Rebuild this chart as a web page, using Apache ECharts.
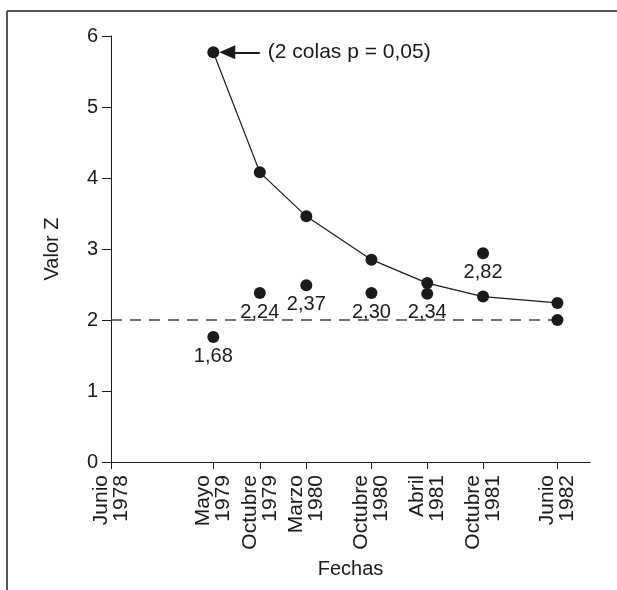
<!DOCTYPE html>
<html>
<head>
<meta charset="utf-8">
<script src="https://cdn.jsdelivr.net/npm/echarts@6.0.0/dist/echarts.min.js"></script>
<style>
  html, body { margin: 0; padding: 0; background: #fff; }
  #chart { width: 617px; height: 590px; }
</style>
</head>
<body>
<div id="chart"></div>
<script>
// meses contados desde junio de 1978
var fechaMeses = [11, 16, 21, 28, 34, 40, 48];
var tickMeses = [0, 11, 16, 21, 28, 34, 40, 48];
var tickEtiquetas = ["Junio\n1978", "Mayo\n1979", "Octubre\n1979", "Marzo\n1980", "Octubre\n1980", "Abril\n1981", "Octubre\n1981", "Junio\n1982"];
var valorCurva = [5.77, 4.08, 3.46, 2.85, 2.52, 2.33, 2.24];
var valorPuntos = [1.76, 2.38, 2.49, 2.38, 2.37, 2.94, 2.0];
var etiquetasPuntos = ["1,68", "2,24", "2,37", "2,30", "2,34", "2,82", ""];
var umbral = 2;
var flecha = [12.5, 16.0]; // punta y cola de la flecha, en meses

var font = "Liberation Sans, Arial, sans-serif";
var negro = "#1a1a1a";

var chart = echarts.init(document.getElementById("chart"));

var curva = fechaMeses.map(function (m, i) { return [m, valorCurva[i]]; });
var puntos = fechaMeses.map(function (m, i) { return [m, valorPuntos[i]]; });
var lineaUmbral = [[tickMeses[0], umbral], [tickMeses[tickMeses.length - 1], umbral]];

chart.setOption({
  animation: false,
  grid: { left: 111, top: 36, right: 27, bottom: 128 },
  graphic: [
    { type: "line", shape: { x1: 7, y1: 11, x2: 7, y2: 590 }, style: { stroke: "#555", lineWidth: 2 } },
    { type: "line", shape: { x1: 7, y1: 11, x2: 617, y2: 11 }, style: { stroke: "#555", lineWidth: 2 } }
  ],
  xAxis: {
    type: "value",
    min: 0,
    max: 51.5,
    name: "Fechas",
    nameLocation: "middle",
    nameGap: 97,
    nameTextStyle: { fontFamily: font, fontSize: 20, color: negro },
    axisLine: { onZero: false, lineStyle: { color: negro, width: 1 } },
    axisTick: { show: true, length: 7, customValues: tickMeses, lineStyle: { color: negro } },
    splitLine: { show: false },
    axisLabel: {
      customValues: tickMeses,
      rotate: 90,
      margin: 13,
      fontFamily: font,
      fontSize: 21,
      lineHeight: 20,
      color: negro,
      formatter: function (v) {
        var i = tickMeses.indexOf(v);
        return i >= 0 ? tickEtiquetas[i] : "";
      }
    }
  },
  yAxis: {
    type: "value",
    min: 0,
    max: 6,
    interval: 1,
    name: "Valor Z",
    nameLocation: "middle",
    nameGap: 49,
    nameTextStyle: { fontFamily: font, fontSize: 20, color: negro },
    axisLine: { show: true, lineStyle: { color: negro, width: 1 } },
    axisTick: { show: true, length: 9, lineStyle: { color: negro } },
    splitLine: { show: false },
    axisLabel: { fontFamily: font, fontSize: 20, color: negro, margin: 13 }
  },
  series: [
    {
      type: "line",
      data: lineaUmbral,
      symbol: "none",
      lineStyle: { color: "#444", width: 1.5, type: [11, 8] },
      silent: true,
      z: 1
    },
    {
      type: "line",
      data: curva,
      symbol: "circle",
      symbolSize: 12,
      itemStyle: { color: negro },
      lineStyle: { color: negro, width: 1.2 },
      z: 3,
      markLine: {
        silent: true,
        animation: false,
        symbol: ["triangle", "none"],
        symbolSize: [14, 16],
        lineStyle: { color: negro, width: 2, type: "solid" },
        label: {
          show: true,
          position: "end",
          distance: 8,
          fontFamily: font,
          fontSize: 21,
          color: negro,
          formatter: "(2 colas p = 0,05)"
        },
        data: [[{ coord: [flecha[0], valorCurva[0]] }, { coord: [flecha[1], valorCurva[0]] }]]
      }
    },
    {
      type: "scatter",
      data: puntos,
      symbol: "circle",
      symbolSize: 12,
      itemStyle: { color: negro, opacity: 1 },
      z: 3,
      label: {
        show: true,
        position: "bottom",
        distance: 3,
        fontFamily: font,
        fontSize: 20,
        color: negro,
        formatter: function (p) { return etiquetasPuntos[p.dataIndex]; }
      }
    }
  ]
});
</script>
</body>
</html>
